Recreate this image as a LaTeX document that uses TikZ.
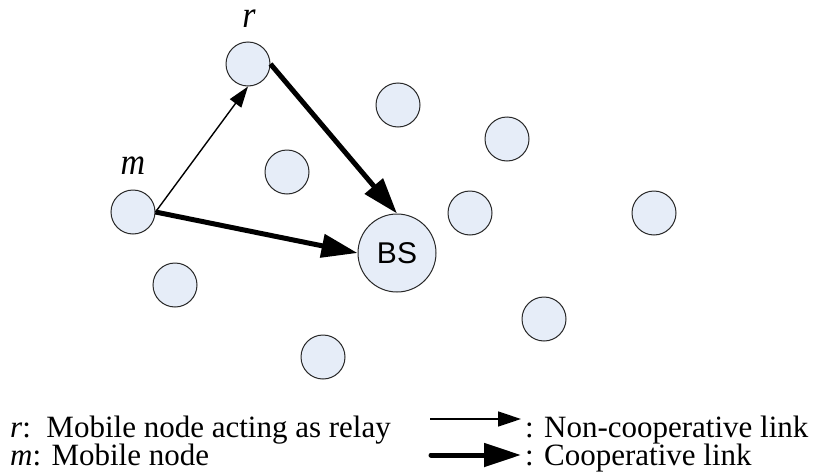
\documentclass[tikz,border=0pt]{standalone}
\usepackage{fontspec}
\setmainfont{Liberation Serif}
\newfontfamily\arialf{Liberation Sans}
\usetikzlibrary{arrows.meta}
\definecolor{nodefill}{RGB}{230,237,248}
\definecolor{nodeline}{RGB}{40,40,40}
\tikzset{
  mob/.style={circle,fill=nodefill,draw=nodeline,line width=1pt,minimum size=44pt,inner sep=0pt},
  bsnode/.style={circle,fill=nodefill,draw=nodeline,line width=1pt,minimum size=78pt,inner sep=0pt,font=\arialf\fontsize{30}{34}\selectfont},
  lbl/.style={font=\fontsize{34}{40}\selectfont\itshape,inner sep=0pt,yscale=1.1},
  legtext/.style={font=\fontsize{31}{36}\selectfont,inner sep=0pt,anchor=base west},
  thinlink/.style={line width=1.4pt,-{Triangle[length=21pt,width=14pt]}},
  thicklink/.style={line width=5pt,-{Triangle[length=36pt,width=23pt]}},
  legthin/.style={line width=1.5pt,-{Triangle[length=23pt,width=15pt]}},
  legthick/.style={line width=5pt,line cap=round,-{Triangle[length=37pt,width=23pt]}}
}
\begin{document}
\begin{tikzpicture}[x=1pt,y=-1pt]
\useasboundingbox[fill=white] (0,0) rectangle (814,474);
% nodes
\node[mob] (r) at (248,64) {};
\node[mob] (m) at (133,212) {};
\node[bsnode] (BS) at (397,253) {BS};
\node[mob] (n1) at (398,105) {};
\node[mob] (n2) at (287,172) {};
\node[mob] (n3) at (175,285) {};
\node[mob] (n4) at (507,139) {};
\node[mob] (n5) at (470,213) {};
\node[mob] (n6) at (654,213) {};
\node[mob] (n7) at (544,319) {};
\node[mob] (n8) at (323,357) {};
% labels
\node[lbl] (rl) at (249,19) {r};
\node[lbl] (ml) at (133,166) {m};
% links
\draw[thinlink] (m.east) -- (r.south);
\draw[thicklink] (m.east) -- (BS.west);
\draw[thicklink] (r.east) -- (BS.north);
% legend
\node[legtext] (t1) at (10,437) {\textit{r}:\ \ Mobile node acting as relay};
\node[legtext] (t2) at (10,465) {\textit{m}: Mobile node};
\coordinate (a1s) at (430,419);
\coordinate (a1e) at (521,419);
\coordinate (a2s) at (431,455);
\coordinate (a2e) at (521,455);
\draw[legthin] (a1s) -- (a1e);
\draw[legthick] (a2s) -- (a2e);
\node[legtext] (t3) at (525,437) {: Non-cooperative link};
\node[legtext] (t4) at (525,465) {: Cooperative link};
\end{tikzpicture}
\end{document}
